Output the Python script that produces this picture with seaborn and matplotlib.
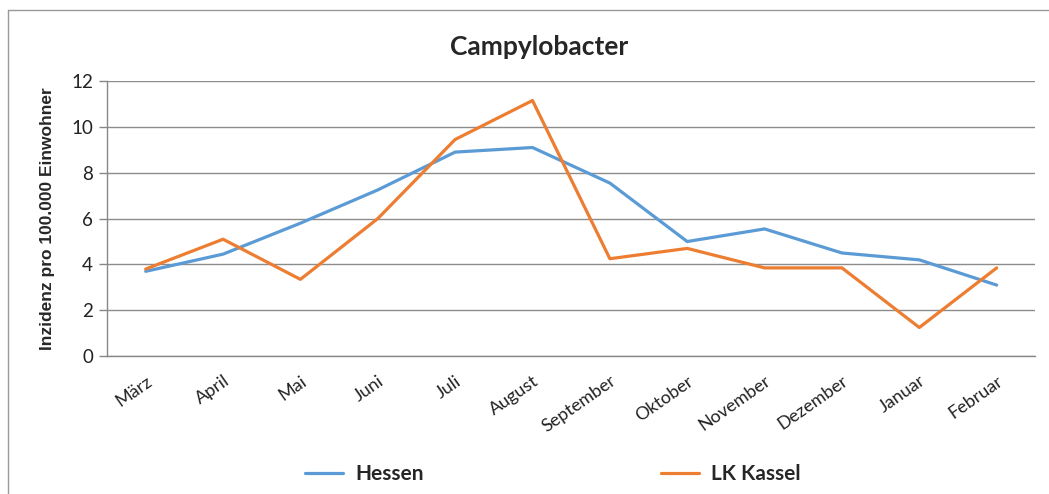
import matplotlib.pyplot as plt
import numpy as np
import pandas as pd
import seaborn as sns
from matplotlib.lines import Line2D

months = ["März", "April", "Mai", "Juni", "Juli", "August", "September",
          "Oktober", "November", "Dezember", "Januar", "Februar"]
hessen = [3.7, 4.45, 5.8, 7.25, 8.9, 9.1, 7.55, 5.0, 5.55, 4.5, 4.2, 3.1]
lk_kassel = [3.8, 5.1, 3.35, 6.0, 9.45, 11.15, 4.25, 4.7, 3.85, 3.85, 1.25, 3.85]
series = ["Hessen", "LK Kassel"]
colors = ["#5B9BD5", "#ED7D31"]

df = pd.DataFrame({
    "Monat": months * 2,
    "pos": list(range(len(months))) * 2,
    "Wert": hessen + lk_kassel,
    "Region": [series[0]] * len(months) + [series[1]] * len(months),
})

sns.set_style("white")
plt.rcParams["font.family"] = ["Lato", "DejaVu Sans"]

fig = plt.figure(figsize=(10.49, 4.94), dpi=100)
ax = fig.add_axes([0.102, 0.279, 0.885, 0.557])

sns.lineplot(data=df, x="pos", y="Wert", hue="Region", palette=colors,
             linewidth=2.3, ax=ax, legend=False)

ax.set_xlim(-0.5, len(months) - 0.5)
ax.set_ylim(0, 12)
ax.set_yticks(np.arange(0, 13, 2))
ax.set_yticklabels([str(v) for v in range(0, 13, 2)], fontsize=13.5, color="#222222")
ax.set_xticks(range(len(months)))
ax.set_xticklabels(months, rotation=35, ha="right", rotation_mode="anchor",
                   fontsize=13, color="#222222")
ax.set_xticks(np.arange(-0.5, len(months), 1), minor=True)
ax.tick_params(axis="x", which="major", length=0, pad=12)
ax.tick_params(axis="x", which="minor", length=6, color="#888888", width=1, direction="out")
ax.tick_params(axis="y", length=6, color="#888888", width=1, direction="out", left=True, pad=4)

ax.grid(axis="y", color="#8c8c8c", linewidth=1)
ax.set_axisbelow(True)
for side in ["top", "right"]:
    ax.spines[side].set_visible(False)
for side in ["left", "bottom"]:
    ax.spines[side].set_color("#888888")
    ax.spines[side].set_linewidth(1)

ax.set_xlabel("")
ax.set_ylabel("Inzidenz pro 100.000 Einwohner", fontsize=12.5, fontweight="bold",
              family=["Liberation Sans", "DejaVu Sans"], labelpad=12)
fig.text(539 / 1049, 1 - 47 / 494, "Campylobacter", fontsize=19, fontweight="bold",
         ha="center", va="center")

handles = [Line2D([0], [0], color=c, linewidth=2.3) for c in colors]
fig.legend(handles, series, loc="center", bbox_to_anchor=(0.527, 0.04), ncol=2,
           frameon=False, handlelength=1.8, handletextpad=0.6,
           columnspacing=11.4, prop={"weight": "bold", "size": 15})

# chart area border (left and top)
fig.add_artist(Line2D([8 / 1049, 8 / 1049], [0, 1 - 10 / 494], color="#999999",
                      linewidth=1, transform=fig.transFigure))
fig.add_artist(Line2D([8 / 1049, 1], [1 - 10 / 494, 1 - 10 / 494], color="#999999",
                      linewidth=1, transform=fig.transFigure))

fig.savefig("out.png", dpi=100)
